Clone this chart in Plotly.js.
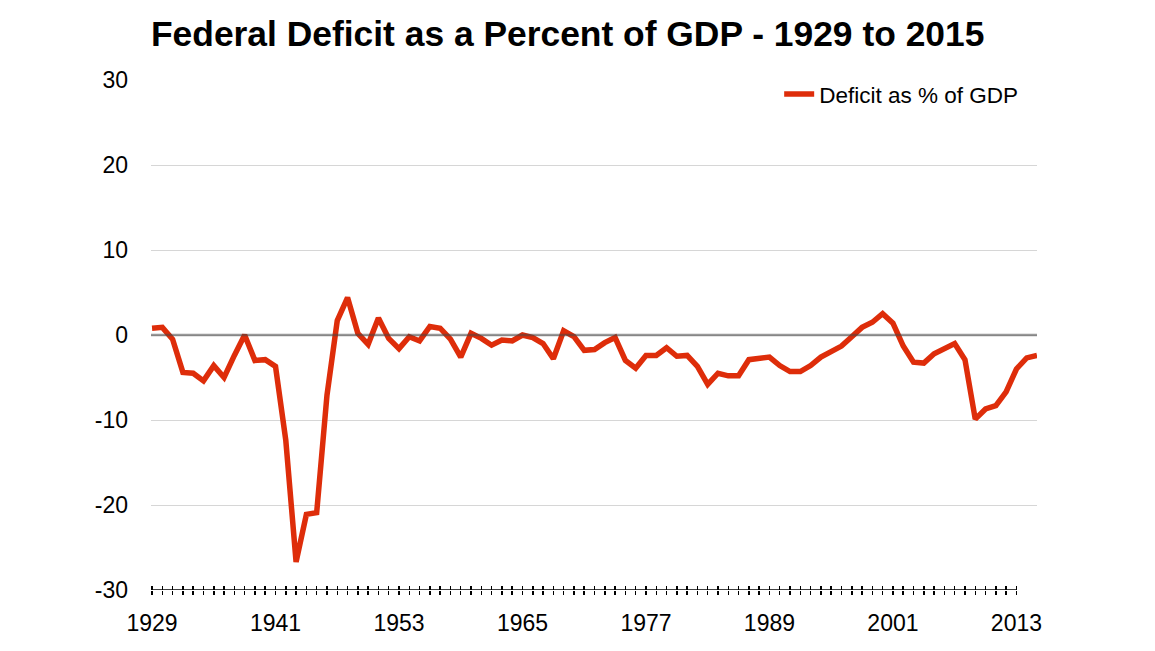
<!DOCTYPE html>
<html>
<head>
<meta charset="utf-8">
<script src="https://cdn.plot.ly/plotly-3.0.1.min.js"></script>
<style>html,body{margin:0;padding:0;background:#fff;}#chart{width:1155px;height:651px;}</style>
</head>
<body>
<div id="chart"></div>
<script>
const years = [];
for (let y = 1929; y <= 2015; y++) years.push(y);

const deficitPct = [
  0.8, 0.9, -0.5, -4.4, -4.5, -5.4, -3.6, -5.0, -2.4, 0.0,
  -3.0, -2.9, -3.7, -12.4, -26.7, -21.1, -20.9, -7.1, 1.7, 4.4,
  0.2, -1.1, 2.0, -0.4, -1.6, -0.2, -0.7, 1.0, 0.8, -0.5,
  -2.6, 0.2, -0.4, -1.2, -0.6, -0.7, 0.0, -0.3, -1.0, -2.8,
  0.5, -0.2, -1.8, -1.7, -0.9, -0.3, -3.0, -3.9, -2.4, -2.4,
  -1.5, -2.5, -2.4, -3.7, -5.8, -4.5, -4.8, -4.8, -2.9, -2.8,
  -2.6, -3.6, -4.3, -4.3, -3.6, -2.6, -2.0, -1.3, -0.2, 0.9,
  1.5, 2.5, 1.4, -1.3, -3.2, -3.3, -2.2, -1.6, -1.0, -2.9,
  -9.9, -8.7, -8.3, -6.7, -4.0, -2.7, -2.4
];

const yTicks = [-30, -20, -10, 0, 10, 20, 30];
const xTickYears = [1929, 1941, 1953, 1965, 1977, 1989, 2001, 2013];
const lastTickYear = xTickYears[xTickYears.length - 1];
const minorTickYears = years.filter(y => y <= lastTickYear);

const FONT = '"Liberation Sans", Arial, Helvetica, sans-serif';

const trace = {
  x: years,
  y: deficitPct,
  type: 'scatter',
  mode: 'lines',
  name: 'Deficit as % of GDP',
  line: {color: '#de2d0a', width: 5.5, shape: 'linear'},
  hoverinfo: 'x+y'
};

// invisible companion so the overlay axis (inner half of the tick marks) is drawn
const tickCarrier = {
  x: years,
  y: deficitPct,
  xaxis: 'x2',
  type: 'scatter',
  mode: 'lines',
  line: {color: 'rgba(0,0,0,0)', width: 0},
  showlegend: false,
  hoverinfo: 'skip'
};

const layout = {
  width: 1155,
  height: 651,
  paper_bgcolor: '#fff',
  plot_bgcolor: '#fff',
  margin: {l: 151, r: 118, t: 80, b: 61, pad: 0},
  font: {family: FONT, color: '#000', size: 23},
  title: {
    text: '<b>Federal Deficit as a Percent of GDP - 1929 to 2015</b>',
    font: {family: FONT, size: 35.4, color: '#000'},
    x: 0, xref: 'paper', xanchor: 'left',
    y: 1 - 34/651, yref: 'container', yanchor: 'middle'
  },
  showlegend: true,
  legend: {
    x: 0.709, xanchor: 'left', y: 1.014, yanchor: 'top',
    bgcolor: 'rgba(0,0,0,0)', borderwidth: 0,
    font: {family: FONT, size: 22.5, color: '#000'}
  },
  xaxis: {
    range: [1928.9, 2015],
    tickmode: 'array',
    tickvals: xTickYears,
    ticktext: xTickYears.map(String),
    ticks: 'outside', ticklen: 4, tickwidth: 1.5, tickcolor: '#000',
    minor: {tickmode: 'array', tickvals: minorTickYears, ticks: 'outside', ticklen: 4, tickwidth: 1.5, tickcolor: '#000', showgrid: false},
    showgrid: false, zeroline: false,
    showline: false,
    tickfont: {family: FONT, size: 23, color: '#000'},
    ticklabelstandoff: 8,
    fixedrange: true
  },
  xaxis2: {
    overlaying: 'x', matches: 'x', anchor: 'y',
    range: [1928.9, 2015],
    tickmode: 'array', tickvals: minorTickYears,
    ticks: 'inside', ticklen: 4, tickwidth: 1.5, tickcolor: '#000',
    showticklabels: false, showgrid: false, zeroline: false, showline: false
  },
  yaxis: {
    range: [-30, 30],
    tickmode: 'array',
    tickvals: yTicks,
    ticktext: yTicks.map(String),
    ticks: '',
    showgrid: true, gridcolor: '#d6d6d6', gridwidth: 1,
    zeroline: false, showline: false,
    tickfont: {family: FONT, size: 23, color: '#000'},
    ticklabelstandoff: 22,
    fixedrange: true
  },
  shapes: [
    {
      type: 'line', xref: 'paper', x0: 0, x1: 1, yref: 'y', y0: 0, y1: 0,
      line: {color: 'rgba(70,70,70,0.55)', width: 2.5}, layer: 'above'
    },
    {
      type: 'line', xref: 'x', x0: years[0], x1: lastTickYear, yref: 'y', y0: yTicks[0], y1: yTicks[0],
      line: {color: '#000', width: 1.5}, layer: 'above'
    }
  ]
};

Plotly.newPlot('chart', [trace, tickCarrier], layout, {displayModeBar: false, staticPlot: true});
</script>
</body>
</html>
